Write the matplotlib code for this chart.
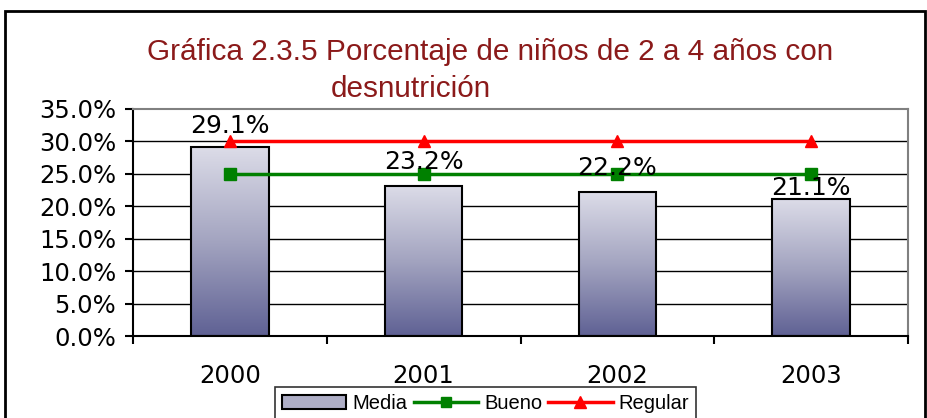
import matplotlib
matplotlib.use("Agg")
import matplotlib.pyplot as plt
import numpy as np
from matplotlib.patches import Rectangle, Patch
from matplotlib.lines import Line2D
from matplotlib.colors import LinearSegmentedColormap

years = ["2000", "2001", "2002", "2003"]
media = [29.1, 23.2, 22.2, 21.1]
bueno = [25.0, 25.0, 25.0, 25.0]
regular = [30.0, 30.0, 30.0, 30.0]
label_offsets = [15, 17, 17, 8]

fig = plt.figure(figsize=(9.27, 4.18), dpi=100)
ax = fig.add_axes([133/927, 1-336/418, (908-133)/927, (336-109)/418])

x = np.arange(len(years))
w = 0.4
cmap = LinearSegmentedColormap.from_list("g", ["#5f6194", "#a3a4c0", "#dcdce8"])
grad = np.linspace(0, 1, 256).reshape(-1, 1)

for gy in np.arange(5, 35, 5):
    ax.axhline(gy, color="black", lw=1, zorder=1)

for xi, v in zip(x, media):
    ax.imshow(grad, extent=[xi - w/2, xi + w/2, 0, v], origin="lower",
              cmap=cmap, aspect="auto", zorder=2)
ax.bar(x, media, width=w, facecolor="none", edgecolor="black", lw=1.5, zorder=3)

ax.plot(x, bueno, color="#008000", lw=2.5, marker="s", ms=8, zorder=4)
ax.plot(x, regular, color="#ff0000", lw=2.5, marker="^", ms=9, zorder=4)

for xi, v, off in zip(x, media, label_offsets):
    ax.annotate(f"{v:.1f}%", (xi, v), xytext=(0, off), textcoords="offset points",
                ha="center", va="center", fontsize=18, color="black", zorder=5)

ax.set_xlim(-0.5, 3.5)
ax.set_ylim(0, 35)
ax.set_yticks(np.arange(0, 36, 5))
ax.set_yticklabels([f"{t:.1f}%" for t in np.arange(0, 36, 5)], fontsize=17.5)
ax.set_xticks(x)
ax.set_xticklabels(years, fontsize=17.5)
ax.set_xticks(np.arange(-0.5, 4, 1), minor=True)
ax.tick_params(axis="x", which="major", length=0, pad=20)
ax.tick_params(axis="x", which="minor", length=6, width=1.5, direction="out")
ax.tick_params(axis="y", length=6, width=1.5, direction="out", pad=6)
for s in ["top", "right"]:
    ax.spines[s].set_color("#808080")
    ax.spines[s].set_linewidth(1.5)
for s in ["left", "bottom"]:
    ax.spines[s].set_color("black")
    ax.spines[s].set_linewidth(1.5)

fig.text(490/927, 1-52/418, "Gráfica 2.3.5 Porcentaje de niños de 2 a 4 años con",
         ha="center", va="center", fontsize=21.4, color="#8b1a1a", family="Liberation Sans")
fig.text(411/927, 1-89/418, "desnutrición",
         ha="center", va="center", fontsize=21.4, color="#8b1a1a", family="Liberation Sans")

handles = [Patch(facecolor="#aeaec6", edgecolor="black", lw=1.5),
           Line2D([], [], color="#008000", lw=2.5, marker="s", ms=7),
           Line2D([], [], color="#ff0000", lw=2.5, marker="^", ms=8)]
leg = fig.legend(handles, ["Media", "Bueno", "Regular"], loc="upper left",
                 bbox_to_anchor=(275/927, 1-387/418), ncol=3, frameon=True,
                 handlelength=3.2, handletextpad=0.3, columnspacing=0.3,
                 borderpad=0.35, borderaxespad=0, fancybox=False, edgecolor="black",
                 prop={"family": "Liberation Sans", "size": 14.5})
leg.get_frame().set_linewidth(1.2)

fig.patches.append(Rectangle((5/927, -0.1), (925-5)/927, (418-11)/418 + 0.1,
                             transform=fig.transFigure, fill=False, edgecolor="black",
                             lw=2, clip_on=False))

fig.savefig("out.png", dpi=100)
